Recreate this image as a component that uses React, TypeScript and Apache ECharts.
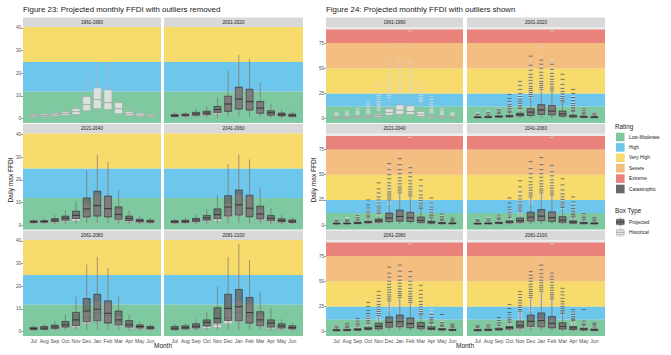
import React, { useEffect, useRef } from 'react';
import * as echarts from 'echarts';

const MONTHS = ['Jul', 'Aug', 'Sep', 'Oct', 'Nov', 'Dec', 'Jan', 'Feb', 'Mar', 'Apr', 'May', 'Jun'];
const PERIODS = ['1961-1990', '2001-2020', '2021-2040', '2041-2060', '2061-2080', '2081-2100'];

const RATINGS = ['Low-Moderate', 'High', 'Very High', 'Severe', 'Extreme', 'Catastrophic'];
const RATING_COLORS = ['#7ec9a0', '#6dc6ec', '#f7dc6d', '#f4be81', '#e9827b', '#686868'];
const RATING_UPPER = [12, 25, 50, 75, 88.5];

const LEFT_TICKS = [0, 10, 20, 30, 40];
const RIGHT_TICKS = [0, 25, 50, 75];

// box stats: [min, Q1, median, Q3, max], Jul..Jun
const HIST_BOX = [
  [0.3, 0.8, 1.3, 1.8, 2.8], [0.4, 0.9, 1.4, 2.0, 3.2], [0.5, 1.2, 1.8, 2.4, 3.8], [0.5, 1.5, 2.3, 3.0, 5.0],
  [0.5, 1.8, 3.1, 4.4, 7.6], [0.6, 3.5, 6.2, 9.7, 20.2], [0.7, 4.4, 8.4, 13.6, 25.0], [0.6, 4.0, 7.1, 12.7, 25.0],
  [0.5, 2.2, 4.4, 7.1, 15.7], [0.4, 1.3, 2.2, 3.1, 5.7], [0.4, 1.0, 1.6, 2.4, 4.0], [0.3, 0.9, 1.4, 2.0, 3.2],
];
const PROJ_2001_2020 = [
  [0.4, 1.0, 1.3, 1.8, 2.8], [0.5, 1.2, 1.6, 2.0, 3.0], [0.6, 1.5, 2.1, 2.8, 4.5], [0.6, 1.8, 2.5, 3.3, 5.5],
  [0.7, 2.6, 4.0, 5.4, 9.5], [0.8, 3.2, 6.5, 9.9, 21], [0.9, 4.2, 8.7, 13.9, 28], [0.8, 3.8, 7.6, 13.0, 26.4],
  [0.6, 2.4, 4.7, 7.6, 15.8], [0.5, 1.5, 2.6, 3.5, 6.5], [0.4, 1.2, 1.8, 2.5, 4.2], [0.4, 1.0, 1.5, 2.0, 3.2],
];
const PROJ_2021_2040 = [
  [0.4, 1.2, 1.5, 1.9, 2.8], [0.5, 1.3, 1.6, 2.0, 3.0], [0.6, 1.6, 2.2, 2.9, 4.5], [0.7, 2.2, 3.1, 4.0, 6.5],
  [0.8, 2.9, 4.3, 6.2, 10.6], [0.9, 3.6, 7.2, 12.0, 24], [1.0, 4.0, 8.7, 15.0, 31], [0.9, 3.6, 7.3, 12.8, 28],
  [0.7, 2.6, 4.8, 8.1, 15.6], [0.5, 1.9, 2.9, 4.0, 6.5], [0.4, 1.4, 2.0, 2.6, 4.0], [0.4, 1.3, 1.7, 2.2, 3.2],
];
const PROJ_2041_2060 = [
  [0.4, 1.1, 1.5, 2.0, 3.0], [0.5, 1.2, 1.7, 2.2, 3.3], [0.6, 1.6, 2.3, 3.0, 4.8], [0.7, 2.2, 3.2, 4.3, 7.0],
  [0.8, 2.8, 4.6, 7.2, 13.5], [0.9, 4.0, 8.0, 13.0, 27], [1.0, 4.5, 9.0, 15.5, 31], [0.9, 3.7, 7.5, 13.2, 29],
  [0.7, 2.7, 5.0, 8.4, 16.5], [0.5, 1.9, 3.0, 4.3, 7.5], [0.4, 1.4, 2.1, 2.8, 4.5], [0.4, 1.2, 1.7, 2.3, 3.5],
];
const PROJ_2061_2080 = [
  [0.4, 0.9, 1.4, 1.9, 3.0], [0.5, 1.0, 1.6, 2.3, 3.5], [0.6, 1.4, 2.1, 2.9, 4.8], [0.7, 2.0, 3.0, 4.5, 7.5],
  [0.8, 2.6, 5.2, 8.5, 15.4], [0.9, 4.3, 9.1, 14.6, 29.6], [1.0, 4.8, 9.9, 16.5, 33], [0.9, 3.8, 8.1, 13.6, 28],
  [0.7, 2.9, 5.2, 9.1, 15.4], [0.5, 2.0, 3.0, 4.9, 7.4], [0.4, 1.6, 2.3, 3.0, 4.5], [0.4, 1.2, 1.7, 2.3, 3.4],
];
const PROJ_2081_2100 = [
  [0.4, 0.9, 1.5, 2.3, 3.4], [0.5, 1.2, 1.8, 2.6, 3.8], [0.6, 1.6, 2.4, 3.5, 5.5], [0.7, 2.6, 4.1, 5.2, 8.5],
  [0.8, 3.8, 5.9, 10.6, 19.7], [0.9, 4.9, 10.3, 16.5, 33], [1.0, 4.8, 11.0, 18.6, 38.8], [0.9, 3.8, 8.4, 15.1, 31.7],
  [0.7, 2.6, 5.2, 8.8, 17.5], [0.5, 2.0, 3.8, 5.2, 10.3], [0.4, 1.6, 2.5, 3.5, 5.5], [0.4, 1.2, 1.8, 2.6, 4.0],
];

// outliers, Jul..Jun
const HIST_OUT = [
  [3, 3.5, 4, 5, 6], [3.5, 4, 5, 6, 7.5], [4, 5, 6, 7, 8.5, 10], [5, 6, 7, 8, 9, 10.5, 12, 14, 16],
  [8, 9.5, 11, 12.5, 14, 15.5, 17, 19, 21, 23, 25, 28, 31, 35],
  [21, 23, 25, 27, 29, 31, 33, 35, 37, 40, 43, 46, 50, 54, 58],
  [26, 28, 30, 32, 34, 36, 38, 40, 42, 44, 47, 50, 53, 57, 62, 71],
  [26, 28, 30, 32, 34, 36, 38, 41, 44, 47, 51, 55, 58, 87],
  [16.5, 18, 19.5, 21, 23, 25, 27, 30, 33, 37], [6, 7, 8, 9, 10.5, 12, 14, 16, 19, 22],
  [4, 4.5, 5, 6, 7, 8.5, 10], [3.5, 4, 4.5, 5, 6],
];
const PROJ_OUT_2001_2020 = [
  [3.5, 4.5], [3.5, 4.5, 6], [5, 6, 7.5, 9], [6, 7, 8.5, 10, 12, 14, 17, 20, 24],
  [10, 11.5, 13, 15, 17, 19, 22, 25, 29, 33, 37], [22, 24, 26, 28, 30, 32, 35, 38, 41, 44, 48, 53, 62],
  [29, 31, 33, 35, 37, 40, 43, 46, 50, 54, 58], [27.5, 29.5, 31.5, 34, 36.5, 39, 42, 45, 49, 54],
  [16.5, 18, 20, 22, 24.5, 27, 30, 34, 39, 44], [7, 8, 9.5, 11, 13, 15, 18, 21, 25, 29],
  [4.5, 5.5, 6.5, 8, 10], [3.5, 4.5, 5.5],
];
const PROJ_OUT_2021_2040 = [
  [3.2, 4.2, 5], [3.5, 4.5, 5.5], [5, 6, 7.5, 9.5], [7, 8.5, 10, 12, 14, 17, 20, 25],
  [11.5, 13, 15, 17, 19, 22, 25, 28, 32, 36, 42], [25, 27, 29, 31, 33, 36, 39, 42, 46, 50, 55, 61],
  [32, 34, 36, 38, 41, 44, 47, 51, 55, 60, 66], [29, 31, 33, 35.5, 38, 41, 44, 48, 52, 57],
  [16.5, 18, 20, 22, 24.5, 27, 30, 34, 39, 45], [7, 8, 9.5, 11, 13, 15.5, 18, 22, 27],
  [4.5, 5.5, 7, 8.5, 11], [3.5, 4.5, 5.5, 7],
];
const PROJ_OUT_2041_2060 = [
  [3.5, 4.5, 5.5], [4, 5, 6.5], [5.5, 6.5, 8, 10], [7.5, 9, 11, 13, 15.5, 18, 22, 27],
  [14, 16, 18, 20, 23, 26, 29, 33, 38, 44], [28, 30, 32, 34.5, 37, 40, 43, 47, 51, 56, 63],
  [32, 34, 36, 38.5, 41, 44, 47.5, 51, 55, 60, 67], [30, 32, 34, 36.5, 39, 42, 45, 49, 53, 59],
  [17.5, 19, 21, 23, 25.5, 28, 31, 35, 40, 46], [8, 9, 10.5, 12, 14, 16.5, 19.5, 23, 28],
  [5, 6, 7.5, 9, 11.5], [4, 5, 6, 7.5],
];
const PROJ_OUT_2061_2080 = [
  [3.5, 4.5, 5.5], [4, 5, 6.5, 8], [5.5, 7, 8.5, 10.5, 13], [8, 9.5, 11, 13, 15.5, 18, 21, 25, 29],
  [16, 18, 20, 22, 24.5, 27, 30, 33, 36, 40], [30.5, 32.5, 34.5, 36.5, 39, 41.5, 44, 47, 50, 54, 58, 64],
  [34, 36, 38, 40, 42.5, 45, 48, 51, 55, 60, 66], [29, 31, 33, 35, 37.5, 40, 43, 46.5, 50, 54.5, 59.5],
  [16.5, 18, 20, 22, 24.5, 27, 30, 33.5, 37, 41, 46], [8, 9, 10.5, 12, 14, 17],
  [5, 6, 7.5, 9, 17], [4, 5, 6, 7.5],
];
const PROJ_OUT_2081_2100 = [
  [4, 5, 6], [4.5, 5.5, 7], [6, 7.5, 9, 11, 14], [9, 10.5, 12, 14, 16.5, 19, 23, 27],
  [20.5, 22, 24, 26, 28.5, 31, 34, 37, 40], [34, 36, 38, 40, 42, 44.5, 47, 50, 53, 56, 59.5],
  [40, 42, 44, 46, 48.5, 51, 54, 57.5, 61.5, 66], [32.5, 34.5, 36.5, 38.5, 41, 43.5, 46, 49, 52, 55, 58],
  [18, 19.5, 21, 23, 25, 27.5, 30, 33, 36.5, 39.5, 43], [11, 12, 13.5, 15, 17, 19.5, 22],
  [6, 7, 8.5, 10.5, 22], [4.5, 5.5, 7, 8.5],
];

const PROJ_BOX = [null, PROJ_2001_2020, PROJ_2021_2040, PROJ_2041_2060, PROJ_2061_2080, PROJ_2081_2100];
const PROJ_OUT = [null, PROJ_OUT_2001_2020, PROJ_OUT_2021_2040, PROJ_OUT_2041_2060, PROJ_OUT_2061_2080, PROJ_OUT_2081_2100];

const FONT = '"Liberation Sans", Arial, Helvetica, sans-serif';
const CATS = ['', ...MONTHS, ''];
const ROW_TOP = [27, 133.5, 240];
const PANEL_H = 96;
const STRIP_H = 9.5;

const FIGS = [
  {
    title: 'Figure 23: Projected monthly FFDI with outliers removed',
    left: [23, 164], width: [138, 139], yMin: -1.9, yMax: 40.4, ticks: LEFT_TICKS, outliers: false,
    yTitleX: 10, monthX: 163,
  },
  {
    title: 'Figure 24: Projected monthly FFDI with outliers shown',
    left: [326, 467], width: [137, 138], yMin: -4.3, yMax: 90.9, ticks: RIGHT_TICKS, outliers: true,
    yTitleX: 313, monthX: 465,
  },
];

function boxSeries(g: number, stats: number[][], fill: string, stroke: string, whisker: string, w: number, z: number) {
  return {
    type: 'custom', xAxisIndex: g, yAxisIndex: g, z, silent: true,
    encode: { x: 0, y: [1, 2, 3, 4, 5] },
    data: stats.map((s, i) => [i + 1, ...s]),
    renderItem: (params: any, api: any) => {
      const x = api.value(0);
      const pMin = api.coord([x, api.value(1)]);
      const pQ1 = api.coord([x, api.value(2)]);
      const pMed = api.coord([x, api.value(3)]);
      const pQ3 = api.coord([x, api.value(4)]);
      const pMax = api.coord([x, api.value(5)]);
      const px = pMin[0];
      const h = w / 2;
      const ls = { stroke: whisker, lineWidth: 0.6, fill: null };
      return {
        type: 'group',
        children: [
          { type: 'line', shape: { x1: px, y1: pMax[1], x2: px, y2: pQ3[1] }, style: ls },
          { type: 'line', shape: { x1: px, y1: pQ1[1], x2: px, y2: pMin[1] }, style: ls },
          { type: 'rect', shape: { x: px - h, y: pQ3[1], width: w, height: pQ1[1] - pQ3[1] }, style: { fill, stroke, lineWidth: 0.6 } },
          { type: 'line', shape: { x1: px - h, y1: pMed[1], x2: px + h, y2: pMed[1] }, style: { stroke, lineWidth: 0.9 } },
        ],
      };
    },
  };
}

function outSeries(g: number, lists: number[][], color: string, z: number) {
  const data: number[][] = [];
  lists.forEach((vals, i) => vals.forEach((v) => data.push([i + 1, v])));
  return {
    type: 'scatter', xAxisIndex: g, yAxisIndex: g, z, silent: true,
    symbol: 'rect', symbolSize: [4, 1], itemStyle: { color }, data,
  };
}

function buildOption() {
  const grid: any[] = [];
  const xAxis: any[] = [];
  const yAxis: any[] = [];
  const series: any[] = [];
  const graphic: any[] = [];

  FIGS.forEach((fig) => {
    graphic.push({
      type: 'text', x: fig.left[0], y: 9.5, silent: true,
      style: { text: fig.title, fontSize: 7.9, fill: '#1a1a1a', fontFamily: FONT, align: 'left', verticalAlign: 'middle' },
    });
    graphic.push({
      type: 'text', x: fig.yTitleX, y: 180, rotation: Math.PI / 2, silent: true,
      style: { text: 'Daily max FFDI', fontSize: 6.5, fill: '#1a1a1a', fontFamily: FONT, align: 'center', verticalAlign: 'middle' },
    });
    graphic.push({
      type: 'text', x: fig.monthX, y: 345, silent: true,
      style: { text: 'Month', fontSize: 6.5, fill: '#1a1a1a', fontFamily: FONT, align: 'center', verticalAlign: 'middle' },
    });

    const bands: any[] = [];
    RATING_UPPER.forEach((hi, i) => {
      const lo = i === 0 ? fig.yMin : RATING_UPPER[i - 1];
      if (lo >= fig.yMax) return;
      bands.push([{ yAxis: lo, itemStyle: { color: RATING_COLORS[i], opacity: 1 } }, { yAxis: Math.min(hi, fig.yMax) }]);
    });

    PERIODS.forEach((period, p) => {
      const row = Math.floor(p / 2);
      const col = p % 2;
      const g = grid.length;
      const left = fig.left[col];
      const width = fig.width[col];
      const top = ROW_TOP[row];
      const bottomRow = row === 2;
      const leftCol = col === 0;
      grid.push({ left, top, width, height: PANEL_H, show: true, backgroundColor: '#ebebeb', borderWidth: 0, containLabel: false, outerBoundsMode: 'none' });
      xAxis.push({
        type: 'category', gridIndex: g, data: CATS, boundaryGap: false,
        axisLine: { show: false }, splitLine: { show: false },
        axisTick: { show: bottomRow, length: 2, interval: (i: number) => i > 0 && i < CATS.length - 1, lineStyle: { color: '#333', width: 0.5 } },
        axisLabel: { show: bottomRow, interval: 0, fontSize: 5, color: '#4d4d4d', margin: 2, fontFamily: FONT },
      });
      yAxis.push({
        type: 'value', gridIndex: g, min: fig.yMin, max: fig.yMax,
        splitLine: { show: false }, axisLine: { show: false },
        axisTick: { show: leftCol, length: 2, customValues: fig.ticks, lineStyle: { color: '#333', width: 0.5 } },
        axisLabel: { show: leftCol, customValues: fig.ticks, fontSize: 4.5, color: '#4d4d4d', margin: 2, fontFamily: FONT },
      });
      series.push({
        type: 'line', xAxisIndex: g, yAxisIndex: g, data: [], silent: true, z: 1,
        markArea: { silent: true, data: bands },
      });
      series.push(boxSeries(g, HIST_BOX, 'rgba(228,228,228,0.9)', '#a3a3a3', '#b5b5b5', 8, 3));
      if (fig.outliers) series.push(outSeries(g, HIST_OUT, '#d6d6d6', 4));
      const pb = PROJ_BOX[p];
      if (pb) series.push(boxSeries(g, pb, 'rgba(100,100,100,0.8)', '#2e2e2e', '#666666', 7, 5));
      const po = PROJ_OUT[p];
      if (fig.outliers && po) series.push(outSeries(g, po, 'rgba(70,70,70,0.85)', 6));

      graphic.push({
        type: 'rect', silent: true, shape: { x: left, y: top - STRIP_H, width, height: STRIP_H },
        style: { fill: '#d9d9d9' },
      });
      graphic.push({
        type: 'text', x: left + width / 2, y: top - STRIP_H / 2, silent: true,
        style: { text: period, fontSize: 4.6, fill: '#1a1a1a', fontFamily: FONT, align: 'center', verticalAlign: 'middle' },
      });
    });
  });

  // legend
  const LX = 615;
  graphic.push({ type: 'text', x: LX, y: 126, silent: true, style: { text: 'Rating', fontSize: 6.3, fill: '#1a1a1a', fontFamily: FONT, align: 'left', verticalAlign: 'middle' } });
  RATINGS.forEach((r, i) => {
    const cy = 137 + i * 10.4;
    graphic.push({ type: 'rect', silent: true, shape: { x: LX + 1, y: cy - 4.3, width: 8.6, height: 8.6 }, style: { fill: RATING_COLORS[i] } });
    graphic.push({ type: 'text', x: LX + 14, y: cy, silent: true, style: { text: r, fontSize: 4.8, fill: '#1a1a1a', fontFamily: FONT, align: 'left', verticalAlign: 'middle' } });
  });
  graphic.push({ type: 'text', x: LX, y: 210, silent: true, style: { text: 'Box Type', fontSize: 6.3, fill: '#1a1a1a', fontFamily: FONT, align: 'left', verticalAlign: 'middle' } });
  const boxTypes = [
    { label: 'Projected', fill: 'rgba(100,100,100,0.85)', stroke: '#2e2e2e' },
    { label: 'Historical', fill: 'rgba(228,228,228,0.9)', stroke: '#a3a3a3' },
  ];
  boxTypes.forEach((b, i) => {
    const cy = 222 + i * 10.4;
    const cx = LX + 5.3;
    graphic.push({ type: 'rect', silent: true, shape: { x: LX + 1, y: cy - 4.3, width: 8.6, height: 8.6 }, style: { fill: '#ebebeb' } });
    graphic.push({ type: 'line', silent: true, shape: { x1: cx, y1: cy - 4, x2: cx, y2: cy + 4 }, style: { stroke: b.stroke, lineWidth: 0.6 } });
    graphic.push({ type: 'rect', silent: true, shape: { x: LX + 1.5, y: cy - 2.3, width: 7.6, height: 4.6 }, style: { fill: b.fill, stroke: b.stroke, lineWidth: 0.6 } });
    graphic.push({ type: 'line', silent: true, shape: { x1: LX + 1.5, y1: cy, x2: LX + 9.1, y2: cy }, style: { stroke: b.stroke, lineWidth: 0.8 } });
    graphic.push({ type: 'text', x: LX + 14, y: cy, silent: true, style: { text: b.label, fontSize: 4.8, fill: '#1a1a1a', fontFamily: FONT, align: 'left', verticalAlign: 'middle' } });
  });

  return {
    animation: false,
    backgroundColor: '#ffffff',
    textStyle: { fontFamily: FONT },
    grid, xAxis, yAxis, series, graphic,
  };
}

export default function App() {
  const ref = useRef<HTMLDivElement>(null);
  useEffect(() => {
    const chart = echarts.init(ref.current!, null, { renderer: 'svg' });
    chart.setOption(buildOption() as any);
    return () => chart.dispose();
  }, []);
  return <div ref={ref} style={{ position: 'fixed', left: 0, top: 0, width: 671, height: 355, background: '#fff' }} />;
}
